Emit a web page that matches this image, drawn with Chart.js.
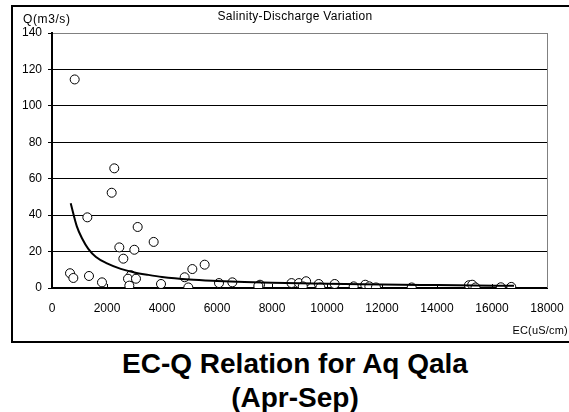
<!DOCTYPE html>
<html lang="en">
<head>
    <meta charset="UTF-8">
    <title>EC-Q Relation for Aq Qala</title>
    <script src="https://cdn.jsdelivr.net/npm/chart.js"></script>
    <style>
        * {
            margin: 0;
            padding: 0;
            box-sizing: border-box;
            font-family: "Liberation Sans", Arial, sans-serif;
        }
        body {
            background: #fff;
            width: 569px;
            height: 412px;
            position: relative;
            overflow: hidden;
        }
        .frame {
            position: absolute;
            left: 11px;
            top: 5px;
            width: 570px;
            height: 338px;
            border: 1px solid #000;
            border-width: 2px 0 2px 2px;
        }
        #wrap {
            position: absolute;
            left: 0;
            top: 0;
            width: 569px;
            height: 345px;
        }
        .lbl {
            position: absolute;
            color: #000;
            white-space: nowrap;
        }
        .title {
            left: 195px;
            width: 200px;
            top: 9px;
            font-size: 12px;
            letter-spacing: 0.3px;
            text-align: center;
        }
        .ytitle {
            left: 23px;
            top: 12px;
            font-size: 12px;
            letter-spacing: 0.6px;
        }
        .xtitle {
            right: 1px;
            top: 324px;
            font-size: 11px;
            letter-spacing: 0.2px;
        }
        .caption {
            position: absolute;
            left: 0;
            top: 347px;
            width: 590px;
            text-align: center;
            font-size: 28px;
            font-weight: bold;
            line-height: 34px;
        }
    </style>
</head>
<body>
    <div class="frame"></div>
    <div id="wrap"><canvas id="myChart" width="569" height="345"></canvas></div>
    <div class="lbl title">Salinity-Discharge Variation</div>
    <div class="lbl ytitle">Q(m3/s)</div>
    <div class="lbl xtitle">EC(uS/cm)</div>
    <div class="caption">EC-Q Relation for Aq Qala<br>(Apr-Sep)</div>

    <script>
        // observed samples (EC in uS/cm, Q in m3/s)
        const ecValues = [825, 2265, 2170, 1285, 3115, 3697, 2448, 2994, 2594, 655,
            776, 1345, 1818, 2873, 2764, 3054, 2812, 3964, 4824, 5103,
            5551, 4957, 6073, 6558, 7564, 7503, 8710, 8980, 9240, 9120,
            9700, 9760, 10280, 10970, 11390, 11540, 11780, 13080, 15160, 15280,
            15400, 16320, 16700];
        const qValues = [114.5, 65.7, 52.3, 38.8, 33.5, 25.3, 22.3, 21, 16.1, 8.1,
            5.5, 6.6, 3.1, 7, 5.1, 5.1, 1.3, 2.2, 5.9, 10.4,
            12.8, 0.3, 2.7, 3.1, 1.8, 1.1, 2.7, 2.7, 3.7, 0.9,
            2.2, 0.3, 2.2, 0.9, 1.8, 0.9, 0.3, 0.3, 1.5, 1.8,
            0.3, 0.4, 0.6];

        // trend curve
        const trendEC = [680, 900, 1100, 1320, 1600, 2000, 2500, 3000, 3500, 4000,
            5000, 6000, 7000, 8000, 10000, 12000, 14000, 16800];
        const trendQ = [46.5, 34, 27, 21.5, 17, 13.5, 10.5, 8.5, 7.2, 6.1,
            4.7, 3.9, 3.3, 2.9, 2.3, 1.9, 1.6, 1.2];

        const xTicks = [0, 2000, 4000, 6000, 8000, 10000, 12000, 14000, 16000, 18000];
        const yTicks = [0, 20, 40, 60, 80, 100, 120, 140];

        const points = ecValues.map((ec, i) => ({ x: ec, y: qValues[i] }));
        const trend = trendEC.map((ec, i) => ({ x: ec, y: trendQ[i] }));

        // grey right border + small inward ticks on the x axis
        const extras = {
            id: 'extras',
            beforeDatasetsDraw(chart) {
                const { ctx, chartArea, scales } = chart;
                ctx.save();
                ctx.strokeStyle = '#808080';
                ctx.lineWidth = 1;
                ctx.beginPath();
                ctx.moveTo(chartArea.right + 0.5, chartArea.top);
                ctx.lineTo(chartArea.right + 0.5, chartArea.bottom);
                ctx.stroke();
                ctx.strokeStyle = '#000';
                xTicks.forEach(v => {
                    if (v === 0 || v === 18000) return;
                    const px = Math.round(scales.x.getPixelForValue(v)) + 0.5;
                    ctx.beginPath();
                    ctx.moveTo(px, chartArea.bottom);
                    ctx.lineTo(px, chartArea.bottom - 4);
                    ctx.stroke();
                });
                ctx.restore();
            }
        };

        const ctx = document.getElementById('myChart').getContext('2d');
        const chart = new Chart(ctx, {
            type: 'scatter',
            data: {
                datasets: [
                    {
                        type: 'line',
                        label: 'Trend',
                        data: trend,
                        borderColor: '#000',
                        borderWidth: 2,
                        pointRadius: 0,
                        fill: false,
                        cubicInterpolationMode: 'monotone'
                    },
                    {
                        label: 'EC-Q',
                        data: points,
                        pointStyle: 'circle',
                        pointRadius: 4.5,
                        borderWidth: 1,
                        borderColor: '#000',
                        backgroundColor: '#fff'
                    }
                ]
            },
            options: {
                responsive: false,
                animation: false,
                layout: { padding: { left: 0, top: 33, right: 22, bottom: 0 } },
                scales: {
                    x: {
                        type: 'linear',
                        min: 0,
                        max: 18000,
                        afterBuildTicks: s => { s.ticks = xTicks.map(v => ({ value: v })); },
                        afterFit: s => { s.height = 57; s.paddingLeft = 0; s.paddingRight = 0; },
                        ticks: {
                            color: '#000',
                            font: { family: 'Liberation Sans', size: 12 },
                            padding: 13,
                            maxRotation: 0,
                            callback: v => String(v)
                        },
                        grid: {
                            drawTicks: false,
                            color: c => (c.tick && c.tick.value === 18000 ? '#808080' : 'rgba(0,0,0,0)')
                        },
                        border: { display: true, color: '#000', width: 2 }
                    },
                    y: {
                        min: 0,
                        max: 140,
                        afterBuildTicks: s => { s.ticks = yTicks.map(v => ({ value: v })); },
                        afterFit: s => { s.width = 52; s.paddingTop = 0; s.paddingBottom = 0; },
                        ticks: {
                            color: '#000',
                            font: { family: 'Liberation Sans', size: 12 },
                            padding: 6,
                            callback: v => String(v)
                        },
                        grid: {
                            color: c => (c.tick && c.tick.value === 140 ? '#808080' : '#000'),
                            tickColor: '#000',
                            tickLength: 4,
                            lineWidth: 1
                        },
                        border: { display: true, color: '#000', width: 2 }
                    }
                },
                plugins: {
                    legend: { display: false },
                    tooltip: { enabled: false }
                }
            },
            plugins: [extras]
        });
    </script>
</body>
</html>
